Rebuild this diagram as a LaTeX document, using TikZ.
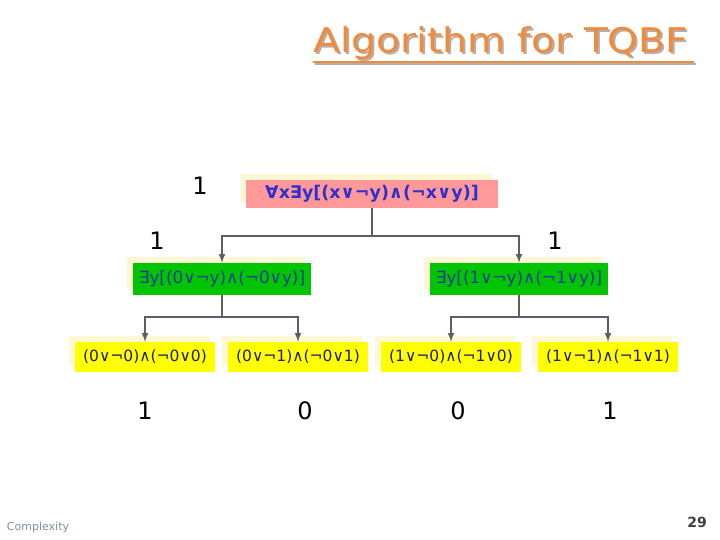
\documentclass[tikz,border=0pt]{standalone}
\usepackage{fontspec}
\setmainfont{DejaVu Sans}
\usetikzlibrary{arrows,shadows,positioning,calc}
\definecolor{TitleOrange}{HTML}{F08A3C}
\definecolor{TitleShade}{HTML}{B8AEA6}
\definecolor{RootPink}{HTML}{FF9999}
\definecolor{MidGreen}{HTML}{00C400}
\definecolor{LeafYellow}{HTML}{FFFF00}
\definecolor{ShadeYellow}{HTML}{FFF8D4}
\definecolor{RootBlue}{HTML}{3030CC}
\definecolor{MidBlue}{HTML}{1E3A9C}
\definecolor{LeafNavy}{HTML}{1E1E6A}
\definecolor{WireGray}{HTML}{5A5F6A}
\definecolor{FootGray}{HTML}{8090A6}
\tikzset{
    formula/.style = {rectangle, inner sep=0pt,
        general shadow={shadow xshift=-6pt, shadow yshift=6pt, fill=ShadeYellow}},
    rootbox/.style = {formula, fill=RootPink, text=RootBlue,
        minimum width=252pt, minimum height=28pt,
        font=\fontsize{17.5}{20}\selectfont\bfseries},
    midbox/.style = {formula, fill=MidGreen, text=MidBlue,
        minimum width=178pt, minimum height=32pt,
        font=\fontsize{16.8}{20}\selectfont},
    leafbox/.style = {formula, fill=LeafYellow, text=LeafNavy,
        minimum width=140pt, minimum height=30pt,
        font=\fontsize{15.5}{19}\selectfont},
    value/.style = {font=\fontsize{24}{28}\selectfont},
    headline/.style = {font=\fontsize{34}{40}\selectfont, xscale=1.15},
    wire/.style = {draw=WireGray, line width=2pt},
    arrow/.style = {wire, -latex}
}
\begin{document}
\begin{tikzpicture}[x=1pt,y=-1pt]
    \useasboundingbox (0,0) rectangle (720,540);
    % title
    \node [headline, text=TitleShade] at (503,45) {Algorithm for TQBF};
    \node [headline, text=TitleOrange] (title) at (501,43) {Algorithm for TQBF};
    \draw [TitleShade, line width=2pt] (315,64) -- (696,64);
    \draw [TitleOrange, line width=2pt] (313,62) -- (694,62);
    % tree
    \node [rootbox] (root) at (372,194) {∀x∃y[(x∨¬y)∧(¬x∨y)]};
    \node [midbox] (m0) at (222,279) {∃y[(0∨¬y)∧(¬0∨y)]};
    \node [midbox] (m1) at (519,279) {∃y[(1∨¬y)∧(¬1∨y)]};
    \node [leafbox] (b00) at (145,357) {(0∨¬0)∧(¬0∨0)};
    \node [leafbox] (b01) at (298,357) {(0∨¬1)∧(¬0∨1)};
    \node [leafbox] (b10) at (451,357) {(1∨¬0)∧(¬1∨0)};
    \node [leafbox] (b11) at (608,357) {(1∨¬1)∧(¬1∨1)};
    \coordinate (j) at (372,236);
    \coordinate (j0) at (222,317);
    \coordinate (j1) at (519,317);
    \draw [wire] (root) -- (j);
    \draw [arrow] (j) -| (m0);
    \draw [arrow] (j) -| (m1);
    \draw [wire] (m0) -- (j0);
    \draw [arrow] (j0) -| (b00);
    \draw [arrow] (j0) -| (b01);
    \draw [wire] (m1) -- (j1);
    \draw [arrow] (j1) -| (b10);
    \draw [arrow] (j1) -| (b11);
    % values
    \node [value] (vroot) at (200,186) {1};
    \node [value] (vm0) at (157,241) {1};
    \node [value] (vm1) at (555,241) {1};
    \node [value] (v00) at (145,411) {1};
    \node [value] (v01) at (305,411) {0};
    \node [value] (v10) at (458,411) {0};
    \node [value] (v11) at (610,411) {1};
    % footer
    \node [text=FootGray, font=\fontsize{11}{13}\selectfont] (foot) at (38,527) {Complexity};
    \node [text=black!75, font=\fontsize{14}{16}\selectfont\bfseries] (page) at (697,522) {29};
\end{tikzpicture}
\end{document}
